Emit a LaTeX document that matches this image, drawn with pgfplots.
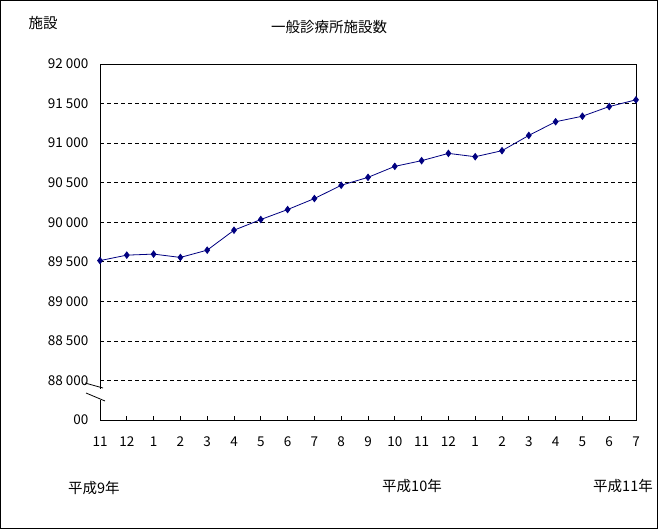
\documentclass[border=0pt]{standalone}
\usepackage{fontspec}
\setmainfont{Noto Sans CJK JP}
\usepackage{pgfplots}
\pgfplotsset{compat=1.18}
\definecolor{navyline}{RGB}{0,0,128}

\begin{document}
\begin{tikzpicture}
\path[use as bounding box] (0pt,0pt) rectangle (658pt,530pt);
\draw[line width=1pt] (0.5pt,1.5pt) rectangle (657pt,529.5pt);
\begin{axis}[
  at={(100pt,110pt)}, anchor=south west,
  scale only axis, width=536pt, height=356pt,
  xmin=0, xmax=20, ymin=87500, ymax=92000,
  xtick={0,...,20},
  xticklabels={11,12,1,2,3,4,5,6,7,8,9,10,11,12,1,2,3,4,5,6,7},
  ytick={87500,88000,88500,89000,89500,90000,90500,91000,91500,92000},
  yticklabels={00,{88 000},{88 500},{89 000},{89 500},{90 000},{90 500},{91 000},{91 500},{92 000}},
  scaled y ticks=false,
  /pgf/number format/assume math mode=true,
  tick label style={font=\fontsize{13.5}{15}\selectfont},
  xtick pos=bottom, ytick pos=left,
  tick align=inside,
  major tick length=4pt,
  ytick style={draw=none},
  xticklabel style={yshift=-13pt},
  yticklabel style={xshift=-8pt},
  ymajorgrids,
  grid style={black, dash pattern=on 4pt off 3pt, line width=0.7pt},
  axis line style={line width=0.9pt},
  tick style={black, line width=0.8pt},
  clip=false,
]
\addplot[navyline, line width=0.8pt, mark=diamond*, mark size=3.2pt,
  mark options={fill=navyline, draw=navyline}]
  coordinates {
  (0,89515) (1,89584) (2,89597) (3,89555) (4,89647) (5,89899)
  (6,90034) (7,90160) (8,90299) (9,90467) (10,90567) (11,90706)
  (12,90778) (13,90870) (14,90828) (15,90904) (16,91097) (17,91270)
  (18,91340) (19,91462) (20,91547)};
\end{axis}
% axis break
\fill[white] (97pt,130pt) rectangle (103pt,141pt);
\draw[line width=0.8pt] (85pt,147pt) -- (103pt,142pt);
\draw[line width=0.8pt] (86pt,137pt) -- (105pt,129pt);
% texts
\node[font=\fontsize{14.5}{16}\selectfont] at (329pt,503pt) {一般診療所施設数};
\node[font=\fontsize{14.5}{16}\selectfont] at (43pt,507pt) {施設};
\node[font=\fontsize{14.5}{16}\selectfont, anchor=west, inner sep=0pt] at (68pt,42pt) {平成9年};
\node[font=\fontsize{14.5}{16}\selectfont, anchor=west, inner sep=0pt] at (382pt,44pt) {平成10年};
\node[font=\fontsize{14.5}{16}\selectfont, anchor=west, inner sep=0pt] at (593pt,44pt) {平成11年};
\end{tikzpicture}
\end{document}
